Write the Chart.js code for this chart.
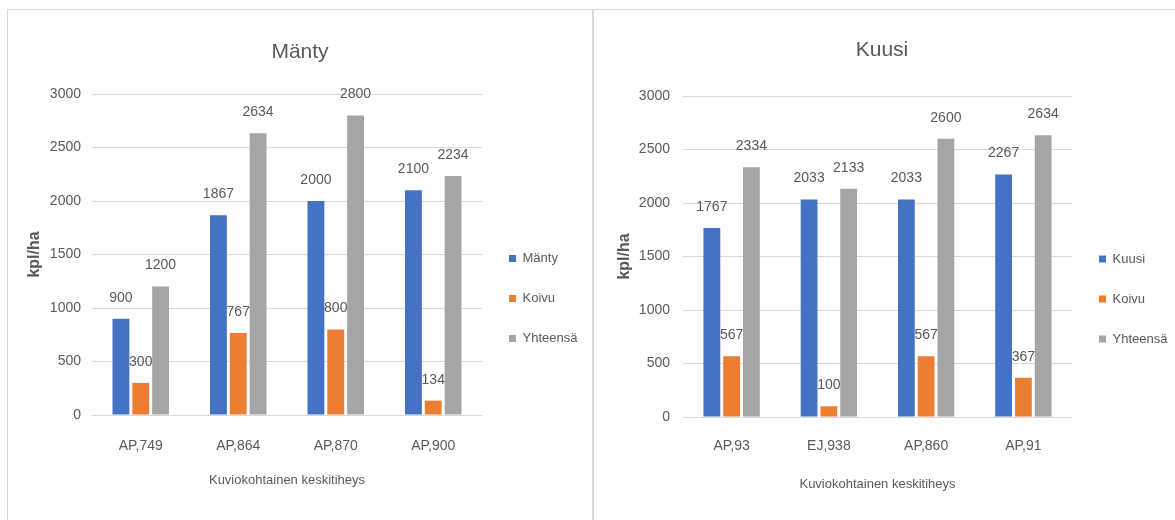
<!DOCTYPE html>
<html>
<head>
<meta charset="utf-8">
<script src="https://cdn.jsdelivr.net/npm/chart.js@4.4.1/dist/chart.umd.min.js"></script>
<style>
body { margin: 0; background: #fff; width: 1175px; height: 520px; overflow: hidden; position: relative; }
.kehys { position: absolute; border-color: #d9d9d9; border-style: solid; }
canvas { position: absolute; }
</style>
</head>
<body>
<div class="kehys" style="left:7px;top:9px;width:1168px;height:511px;border-width:1px 0 0 1px;"></div>
<div class="kehys" style="left:592px;top:9px;width:0;height:511px;border-width:0 0 0 2px;"></div>
<canvas id="graficoManty" width="584" height="509" style="left:8px;top:11px"></canvas>
<canvas id="graficoKuusi" width="582" height="509" style="left:593px;top:11px"></canvas>
<script>
// Mänty
const kategoriatManty = ['AP,749', 'AP,864', 'AP,870', 'AP,900'];
const manty = [900, 1867, 2000, 2100];
const koivuManty = [300, 767, 800, 134];
const yhteensaManty = [1200, 2634, 2800, 2234];

// Kuusi
const kategoriatKuusi = ['AP,93', 'EJ,938', 'AP,860', 'AP,91'];
const kuusi = [1767, 2033, 2033, 2267];
const koivuKuusi = [567, 100, 567, 367];
const yhteensaKuusi = [2334, 2133, 2600, 2634];

const yMin = 0;
const yMax = 3000;
const yAskel = 500;

const FONTTI = "'Liberation Sans', Arial, sans-serif";
const SININEN = '#4472C4';
const ORANSSI = '#ED7D31';
const HARMAA = '#A5A5A5';
const TEKSTI = '#595959';

Chart.defaults.font.family = FONTTI;
Chart.defaults.color = TEKSTI;

// arvot pylväiden päälle
const arvoTekstit = {
    id: 'arvoTekstit',
    afterDatasetsDraw(chart) {
        const ctx = chart.ctx;
        ctx.save();
        ctx.font = '14px ' + FONTTI;
        ctx.fillStyle = TEKSTI;
        ctx.textAlign = 'center';
        ctx.textBaseline = 'middle';
        chart.data.datasets.forEach((ds, i) => {
            chart.getDatasetMeta(i).data.forEach((bar, j) => {
                ctx.fillText(ds.data[j], bar.x, bar.y - 21);
            });
        });
        ctx.restore();
    }
};

function teeKaavio(id, otsikko, kategoriat, nimi, puu, koivu, yhteensa, s) {
    const ctx = document.getElementById(id).getContext('2d');
    return new Chart(ctx, {
        type: 'bar',
        data: {
            labels: kategoriat,
            datasets: [
                { label: nimi, data: puu, backgroundColor: SININEN },
                { label: 'Koivu', data: koivu, backgroundColor: ORANSSI },
                { label: 'Yhteensä', data: yhteensa, backgroundColor: HARMAA }
            ]
        },
        options: {
            responsive: false,
            animation: false,
            devicePixelRatio: 1,
            categoryPercentage: 0.61,
            barPercentage: 0.85,
            layout: { padding: { left: s.vasen, right: s.oikea, top: 0, bottom: s.ala } },
            plugins: {
                title: {
                    display: true,
                    text: otsikko,
                    color: TEKSTI,
                    font: { size: 21, weight: 'normal' },
                    padding: { top: s.otsYla, bottom: s.otsAla }
                },
                legend: {
                    position: 'right',
                    maxWidth: s.selite,
                    title: { display: true, text: ' ', font: { size: 1, lineHeight: 1 }, padding: { top: s.seliteSiirto, bottom: 0 } },
                    labels: { boxWidth: 7, boxHeight: 7, padding: 27, color: TEKSTI, font: { size: 13 } }
                },
                tooltip: { enabled: false }
            },
            scales: {
                x: {
                    grid: { display: false },
                    border: { display: false },
                    ticks: { color: TEKSTI, font: { size: 14 }, padding: s.xPad },
                    title: { display: true, text: 'Kuviokohtainen keskitiheys', color: TEKSTI, font: { size: 13 }, padding: { top: 0, bottom: s.xOtsPad } },
                    afterFit: function(scale) { scale.height = 80; }
                },
                y: {
                    min: yMin,
                    max: yMax,
                    grid: { color: '#D9D9D9', lineWidth: 1, drawTicks: false },
                    border: { display: false },
                    ticks: { stepSize: yAskel, color: TEKSTI, font: { size: 14 }, padding: s.yPad, callback: v => String(v) },
                    title: { display: true, text: 'kpl/ha', color: TEKSTI, font: { size: 16, weight: 'bold' }, padding: { top: s.yOtsPad, bottom: 0 } },
                    afterFit: function(scale) { scale.width = s.yLeveys; }
                }
            }
        },
        plugins: [arvoTekstit]
    });
}

teeKaavio('graficoManty', 'Mänty', kategoriatManty, 'Mänty', manty, koivuManty, yhteensaManty, {
    vasen: 10, oikea: 10, ala: 25, otsYla: 28.4, otsAla: 29.4, selite: 100, seliteSiirto: 90,
    xPad: 15, xOtsPad: 6.8, yPad: 11, yOtsPad: 7.4, yLeveys: 74
});

teeKaavio('graficoKuusi', 'Kuusi', kategoriatKuusi, 'Kuusi', kuusi, koivuKuusi, yhteensaKuusi, {
    vasen: 0, oikea: 4, ala: 23, otsYla: 26.4, otsAla: 33.4, selite: 99, seliteSiirto: 89,
    xPad: 13, xOtsPad: 4.8, yPad: 13, yOtsPad: 22.4, yLeveys: 90
});
</script>
</body>
</html>
